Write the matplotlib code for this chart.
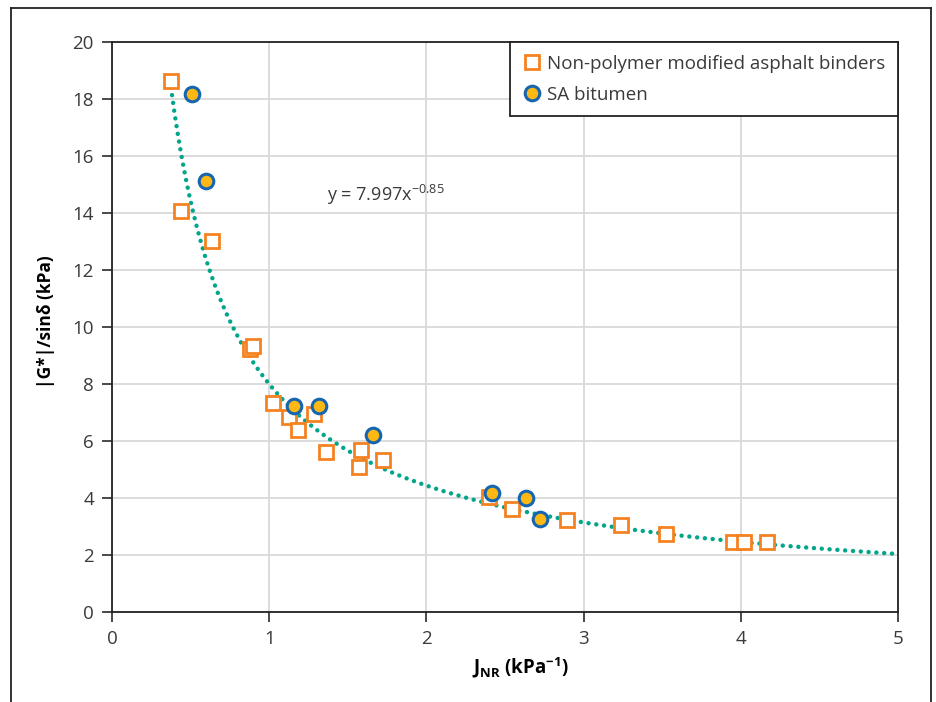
import matplotlib
matplotlib.use("Agg")
import matplotlib.pyplot as plt
from matplotlib.lines import Line2D
import numpy as np

matplotlib.rc("font", family="Open Sans", size=13.5)
matplotlib.rc("mathtext", fontset="custom", rm="Open Sans", it="Open Sans",
              bf="Open Sans:bold")

# Non-polymer modified asphalt binders (J_NR, |G*|/sin d)
npm_x = [0.375, 0.437, 0.636, 0.88, 0.90, 1.024, 1.126, 1.183, 1.285, 1.36,
         1.571, 1.584, 1.724, 2.40, 2.543, 2.892, 3.24, 3.524, 3.948, 4.022,
         4.165]
npm_y = [18.62, 14.07, 13.02, 9.22, 9.33, 7.33, 6.84, 6.39, 6.95, 5.62,
         5.09, 5.68, 5.33, 4.05, 3.60, 3.23, 3.05, 2.74, 2.47, 2.47, 2.45]

# SA bitumen
sa_x = [0.511, 0.596, 1.158, 1.317, 1.66, 2.419, 2.632, 2.723]
sa_y = [18.18, 15.13, 7.23, 7.23, 6.21, 4.16, 4.01, 3.27]

# power-law trend y = a * x^b
trend_a = 7.997
trend_b = -0.85
trend_x0, trend_x1 = 0.375, 5.0

fig = plt.figure(figsize=(9.36, 7.02), dpi=100)
ax = fig.add_axes([112 / 936, 1 - 612 / 702, 786 / 936, 570 / 702])

tx = np.linspace(trend_x0, trend_x1, 400)
ax.plot(tx, trend_a * tx ** trend_b, color="#00A58A", lw=3.2,
        linestyle=(0, (0.01, 1.75)), dash_capstyle="round", zorder=2)

ax.plot(npm_x, npm_y, "s", ms=10.5, mfc="white", mec="#F58220", mew=2.0,
        label="Non-polymer modified asphalt binders", zorder=3)
ax.plot(sa_x, sa_y, "o", ms=10.5, mfc="#FDB813", mec="#1565B0", mew=2.2,
        label="SA bitumen", zorder=4)

ax.text(1.37, 14.65, r"y = 7.997x$^{\mathregular{-0.85}}$", fontsize=13,
        color="#3a3a3a", va="center", ha="left")

ax.set_xlim(0, 5)
ax.set_ylim(0, 20)
ax.set_xticks(range(0, 6))
ax.set_yticks(range(0, 21, 2))
ax.grid(True, color="#D9D9D9", lw=1.3)
ax.set_axisbelow(True)
ax.tick_params(direction="out", length=7, width=1.3, colors="#3a3a3a",
               labelsize=13.5, pad=6)
for s in ax.spines.values():
    s.set_linewidth(1.3)
    s.set_color("#222222")

ax.set_xlabel(r"$\mathbf{J_{NR}}$ (kPa$^{\mathbf{-1}}$)", fontweight="bold",
              fontsize=13.5)
ax.xaxis.set_label_coords(0.52, -0.075)
ax.set_ylabel("|G*|/sinδ (kPa)", fontweight="bold", fontsize=12.5)
ax.yaxis.set_label_coords(-0.073, 0.51)

leg = ax.legend(loc="upper right", borderaxespad=0, fancybox=False,
                framealpha=1, edgecolor="#222222", handletextpad=0.3,
                borderpad=0.68, labelspacing=0.68, handlelength=1.0,
                fontsize=13.5)
leg.get_frame().set_linewidth(1.3)
for t in leg.get_texts():
    t.set_color("#3a3a3a")

# frame around the figure (open at the bottom)
fx0, fx1, fy1 = 11 / 936, 931 / 936, 1 - 8 / 702
for xs, ys in [([fx0, fx0], [0, fy1]), ([fx0, fx1], [fy1, fy1]),
               ([fx1, fx1], [fy1, 0])]:
    fig.add_artist(Line2D(xs, ys, color="#222222", lw=1.3))

fig.savefig("out.png", dpi=100)
